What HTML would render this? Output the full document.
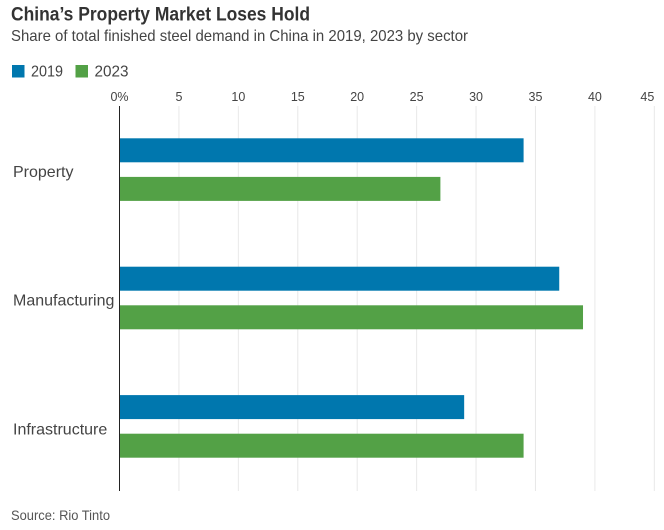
<!DOCTYPE html>
<html>
<head>
<meta charset="utf-8">
<style>
html,body{margin:0;padding:0;background:#fff;width:664px;height:530px;overflow:hidden}
svg{display:block}
text{font-family:"Liberation Sans",sans-serif}
</style>
</head>
<body>
<svg id="chart" width="664" height="530" viewBox="0 0 664 530">
  <text x="11" y="20.5" font-size="19" font-weight="700" fill="#333" textLength="299" lengthAdjust="spacingAndGlyphs">China’s Property Market Loses Hold</text>
  <text x="11" y="41" font-size="16" fill="#444" textLength="457" lengthAdjust="spacingAndGlyphs">Share of total finished steel demand in China in 2019, 2023 by sector</text>
  <rect x="12" y="65" width="12.5" height="12.5" fill="#0077ae"/>
  <text x="31" y="76.5" font-size="16" fill="#444" textLength="32" lengthAdjust="spacingAndGlyphs">2019</text>
  <rect x="75.5" y="65" width="12.5" height="12.5" fill="#53a146"/>
  <text x="94.5" y="76.5" font-size="16" fill="#444" textLength="34" lengthAdjust="spacingAndGlyphs">2023</text>
  <g id="grid"></g>
  <g id="bars"></g>
  <g id="labels"></g>
  <line x1="119.5" x2="119.5" y1="106" y2="491" stroke="#222" stroke-width="1"/>
  <text x="11" y="520" font-size="14" fill="#555" textLength="99" lengthAdjust="spacingAndGlyphs">Source: Rio Tinto</text>
</svg>
<script>
const categories = ["Property", "Manufacturing", "Infrastructure"];
const series2019 = [34, 37, 29];
const series2023 = [27, 39, 34];
const tickValues = [0, 5, 10, 15, 20, 25, 30, 35, 40, 45];
const tickLabels = ["0%", "5", "10", "15", "20", "25", "30", "35", "40", "45"];

const NS = "http://www.w3.org/2000/svg";
function xScale(v) { return 119.5 + v * 11.885; }
function bandTop(i) { return 138.3 + i * 128.4; }
function make(tag, attrs, parent) {
  const el = document.createElementNS(NS, tag);
  for (const k in attrs) el.setAttribute(k, attrs[k]);
  parent.appendChild(el);
  return el;
}
const grid = document.getElementById("grid");
const bars = document.getElementById("bars");
const labels = document.getElementById("labels");

tickValues.forEach(function (v, i) {
  const x = xScale(v);
  if (v !== 0) {
    const line = make("line", { x1: x, x2: x, y1: 106, y2: 491, stroke: "#e8e8e8", "stroke-width": 1 }, grid);
    
    
  }
  const isLast = i === tickValues.length - 1;
  const t = make("text", { x: x, y: 101, "font-size": 12.5, fill: "#444", "text-anchor": isLast ? "end" : "middle" }, grid);
  
  
  t.textContent = tickLabels[i];
});

categories.forEach(function (c, i) {
  const top = bandTop(i);
  const a = make("rect", { x: xScale(0), y: top, width: xScale(series2019[i]) - xScale(0), height: 24, fill: "#0077ae" }, bars);
  
  
  const b = make("rect", { x: xScale(0), y: top + 38.6, width: xScale(series2023[i]) - xScale(0), height: 24, fill: "#53a146" }, bars);
  
  
  const t = make("text", { x: 13, y: top + 38.7 + i * 0.3, "font-size": 16, fill: "#444" }, labels);
  
  
  t.textContent = c;
});
</script>
</body>
</html>
